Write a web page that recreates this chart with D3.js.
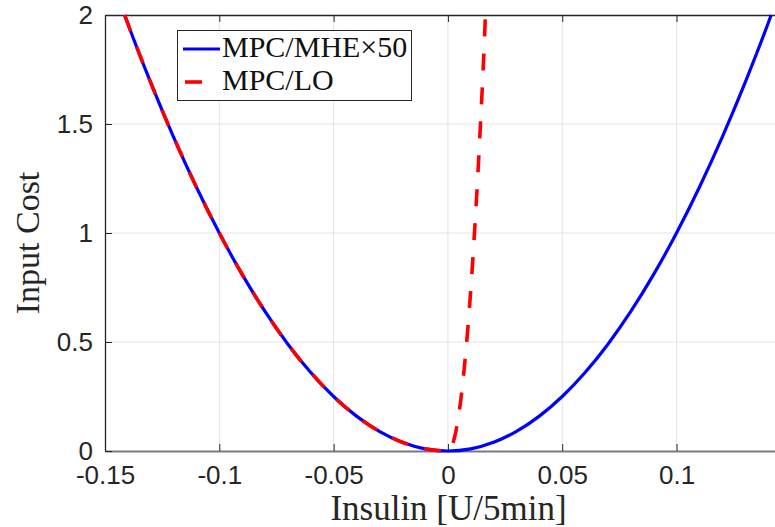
<!DOCTYPE html>
<html>
<head>
<meta charset="utf-8">
<script src="https://cdnjs.cloudflare.com/ajax/libs/d3/7.8.5/d3.min.js"></script>
<style>
    html, body { margin: 0; padding: 0; background: #fff; overflow: hidden; }
    svg { display: block; }
</style>
</head>
<body>
<svg id="chart" width="775" height="527"></svg>
<script>
// --- data ---------------------------------------------------------------

var xTicks = [-0.15, -0.1, -0.05, 0, 0.05, 0.1];
var yTicks = [0, 0.5, 1, 1.5, 2];
var xTickLabels = ['-0.15', '-0.1', '-0.05', '0', '0.05', '0.1'];
var yTickLabels = ['0', '0.5', '1', '1.5', '2'];

var seriesNames = ['MPC/MHE\u00d750', 'MPC/LO'];

// MPC/MHE x50 : symmetric bowl
var mheX = [-0.1414, -0.14, -0.13, -0.12, -0.11, -0.10, -0.09, -0.08, -0.07,
    -0.06, -0.05, -0.04, -0.03, -0.02, -0.01, 0, 0.01, 0.02, 0.03, 0.04, 0.05,
    0.06, 0.07, 0.08, 0.09, 0.10, 0.11, 0.12, 0.13, 0.14, 0.1414];
var mheY = [2.0, 1.96, 1.69, 1.44, 1.21, 1.00, 0.81, 0.64, 0.49,
    0.36, 0.25, 0.16, 0.09, 0.04, 0.01, 0, 0.01, 0.04, 0.09, 0.16, 0.25,
    0.36, 0.49, 0.64, 0.81, 1.00, 1.21, 1.44, 1.69, 1.96, 2.0];

// MPC/LO : same on the left, very steep on the right
var loX = [-0.1414, -0.14, -0.13, -0.12, -0.11, -0.10, -0.09, -0.08, -0.07,
    -0.06, -0.05, -0.04, -0.03, -0.02, -0.01, 0, 0.002, 0.004, 0.006, 0.008,
    0.010, 0.012, 0.014, 0.016, 0.0164];
var loY = [2.0, 1.96, 1.69, 1.44, 1.21, 1.00, 0.81, 0.64, 0.49,
    0.36, 0.25, 0.16, 0.09, 0.04, 0.01, 0, 0.03, 0.118, 0.266, 0.474,
    0.74, 1.066, 1.45, 1.894, 2.0];

(function () {
    'use strict';

    var svg = d3.select('#chart');

    // plot box (right edge falls just outside the window)
    var left = 105, top = 15, bottom = 451, right = 779.4;

    var x = d3.scaleLinear().domain([-0.15, 0.145]).range([left, right]);
    var y = d3.scaleLinear().domain([0, 2]).range([bottom, top]);

    var axisColor = '#262626',
        gridColor = '#e3e3e3',
        tickFont = '"Liberation Sans", Arial, Helvetica, sans-serif',
        serifFont = '"Liberation Serif", "Times New Roman", serif';

    // --- grid ---------------------------------------------------------------

    var grid = svg.append('g').attr('class', 'grid');
    grid.selectAll('line.gx').data(xTicks.slice(1)).enter().append('line')
        .attr('x1', function (d) { return x(d); })
        .attr('x2', function (d) { return x(d); })
        .attr('y1', top).attr('y2', bottom)
        .attr('stroke', gridColor).attr('stroke-width', 1);
    grid.selectAll('line.gy').data(yTicks.slice(1, -1)).enter().append('line')
        .attr('y1', function (d) { return y(d); })
        .attr('y2', function (d) { return y(d); })
        .attr('x1', left).attr('x2', right)
        .attr('stroke', gridColor).attr('stroke-width', 1);

    // --- axes (inward ticks, mirrored on top) ----------------------------

    var xAxisB = d3.axisBottom(x).tickValues(xTicks)
        .tickSizeInner(-7).tickSizeOuter(0)
        .tickFormat(function (d, i) { return xTickLabels[i]; });
    var xAxisT = d3.axisTop(x).tickValues(xTicks)
        .tickSizeInner(-7).tickSizeOuter(0).tickFormat('');
    var yAxisL = d3.axisLeft(y).tickValues(yTicks)
        .tickSizeInner(-7).tickSizeOuter(0)
        .tickFormat(function (d, i) { return yTickLabels[i]; });

    var gB = svg.append('g').attr('transform', 'translate(0,' + bottom + ')').call(xAxisB);
    var gT = svg.append('g').attr('transform', 'translate(0,' + top + ')').call(xAxisT);
    var gL = svg.append('g').attr('transform', 'translate(' + left + ',0)').call(yAxisL);

    [gB, gT, gL].forEach(function (g) {
        g.select('.domain').attr('stroke', axisColor).attr('stroke-width', 1.3);
        g.selectAll('.tick line').attr('stroke', axisColor).attr('stroke-width', 1);
        g.selectAll('.tick text')
            .attr('fill', axisColor)
            .style('font-family', tickFont)
            .style('font-size', '26px');
    });
    gB.select('.domain').attr('stroke', '#7a7a7a').attr('stroke-width', 2);
    gB.selectAll('.tick text').attr('y', 15).attr('dy', '0.71em');
    gL.selectAll('.tick text').attr('x', -12).attr('dy', '0.33em');

    // --- curves -----------------------------------------------------------

    svg.append('clipPath').attr('id', 'plotclip')
        .append('rect')
        .attr('x', left).attr('y', top - 2)
        .attr('width', right - left).attr('height', bottom - top + 4);

    var line = d3.line()
        .x(function (d) { return x(d[0]); })
        .y(function (d) { return y(d[1]); })
        .curve(d3.curveMonotoneX);

    var curves = svg.append('g').attr('clip-path', 'url(#plotclip)');

    curves.append('path')
        .datum(d3.zip(mheX, mheY))
        .attr('d', line)
        .attr('fill', 'none')
        .attr('stroke', '#0000ff')
        .attr('stroke-width', 3.2);

    curves.append('path')
        .datum(d3.zip(loX, loY))
        .attr('d', line)
        .attr('fill', 'none')
        .attr('stroke', '#ff0000')
        .attr('stroke-width', 3.6)
        .attr('stroke-dasharray', '17,17');

    // --- legend -----------------------------------------------------------

    var legend = svg.append('g').attr('class', 'legend');
    legend.append('rect')
        .attr('x', 177.5).attr('y', 30.5)
        .attr('width', 234).attr('height', 70)
        .attr('fill', '#fff')
        .attr('stroke', axisColor).attr('stroke-width', 1);

    legend.append('line')
        .attr('x1', 183).attr('x2', 220)
        .attr('y1', 49).attr('y2', 49)
        .attr('stroke', '#0000ff').attr('stroke-width', 3.2);
    legend.append('line')
        .attr('x1', 185).attr('x2', 218)
        .attr('y1', 82).attr('y2', 82)
        .attr('stroke', '#ff0000').attr('stroke-width', 3.6)
        .attr('stroke-dasharray', '17,17');

    legend.selectAll('text.lab').data(seriesNames).enter().append('text')
        .attr('x', 222)
        .attr('y', function (d, i) { return 57 + i * 33; })
        .attr('fill', '#111')
        .style('font-family', serifFont)
        .style('font-size', '30px')
        .text(function (d) { return d; });

    // --- axis titles --------------------------------------------------------

    svg.append('text')
        .attr('x', (327 + 570) / 2).attr('y', 520)
        .attr('text-anchor', 'middle')
        .attr('fill', axisColor)
        .style('font-family', serifFont)
        .style('font-size', '35px')
        .text('Insulin [U/5min]');

    svg.append('text')
        .attr('transform', 'translate(39,243) rotate(-90)')
        .attr('text-anchor', 'middle')
        .attr('fill', axisColor)
        .style('font-family', serifFont)
        .style('font-size', '34px')
        .text('Input Cost');
}());
</script>
</body>
</html>
